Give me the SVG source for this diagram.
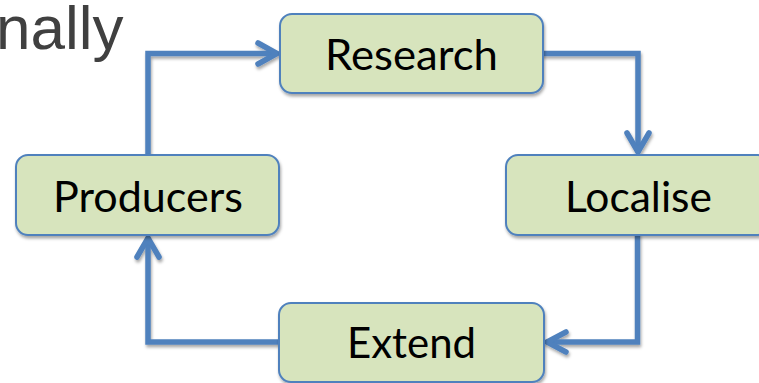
<svg xmlns="http://www.w3.org/2000/svg" width="759" height="383" viewBox="0 0 759 383">
  <defs>
    <filter id="sh" x="-10%" y="-10%" width="130%" height="140%">
      <feDropShadow dx="1" dy="2.5" stdDeviation="1.8" flood-color="#000" flood-opacity="0.35"/>
    </filter>
    <style>
      .box { fill: #d7e4bd; stroke: #4f81bd; stroke-width: 2; }
      .lbl { font-family: Lato, "Open Sans", "Noto Sans", sans-serif; font-size: 42px; fill: #000; text-anchor: middle; }
      .con { fill: none; stroke: #4f81bd; stroke-width: 5.5; stroke-linecap: round; stroke-linejoin: miter; }
      .title { font-family: "Liberation Sans", Arial, sans-serif; font-size: 62px; fill: #404040; }
    </style>
  </defs>
  <rect width="759" height="383" fill="#ffffff"/>
  <text class="title" x="-4" y="49">nally</text>

  <g id="connectors" filter="url(#sh)">
    <path class="con" d="M148 155 V53.5 H276" stroke-linecap="butt"/>
    <path class="con" d="M258 43 L277 53.5 L258 64"/>
    <path class="con" d="M543 53.5 H638 V151" stroke-linecap="butt"/>
    <path class="con" d="M627 133 L638 152 L649 133"/>
    <path class="con" d="M637.5 235 V342 H548" stroke-linecap="butt"/>
    <path class="con" d="M566 332 L547 342 L566 352"/>
    <path class="con" d="M279 342 H148 V239" stroke-linecap="butt"/>
    <path class="con" d="M137 257 L148 238 L159 257"/>
  </g>

  <g id="node-research">
    <rect class="box" x="280" y="14" width="263" height="79" rx="12" filter="url(#sh)"/>
    <text class="lbl" x="411.5" y="70" textLength="173" lengthAdjust="spacingAndGlyphs">Research</text>
  </g>
  <g id="node-localise">
    <rect class="box" x="506" y="155" width="264" height="80" rx="12" filter="url(#sh)"/>
    <text class="lbl" x="638.5" y="212" textLength="147" lengthAdjust="spacingAndGlyphs">Localise</text>
  </g>
  <g id="node-extend">
    <rect class="box" x="279" y="303" width="265" height="79" rx="12" filter="url(#sh)"/>
    <text class="lbl" x="411.5" y="358" textLength="129" lengthAdjust="spacingAndGlyphs">Extend</text>
  </g>
  <g id="node-producers">
    <rect class="box" x="16" y="155" width="263" height="80" rx="12" filter="url(#sh)"/>
    <text class="lbl" x="148" y="212" textLength="190" lengthAdjust="spacingAndGlyphs">Producers</text>
  </g>
</svg>
